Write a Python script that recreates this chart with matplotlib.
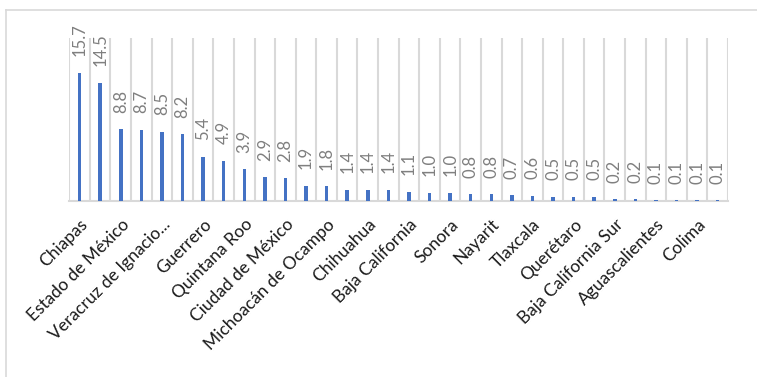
import numpy as np
import matplotlib.pyplot as plt
from matplotlib.lines import Line2D

# Values per state, sorted high to low (only every other name is shown on the axis)
values = [15.7, 14.5, 8.8, 8.7, 8.5, 8.2, 5.4, 4.9, 3.9, 2.9, 2.8, 1.9, 1.8, 1.4, 1.4, 1.4,
          1.1, 1.0, 1.0, 0.8, 0.8, 0.7, 0.6, 0.5, 0.5, 0.5, 0.2, 0.2, 0.1, 0.1, 0.1, 0.1]
shown_labels = ["Chiapas", "Estado de México", "Veracruz de Ignacio...", "Guerrero",
                "Quintana Roo", "Ciudad de México", "Michoacán de Ocampo", "Chihuahua",
                "Baja California", "Sonora", "Nayarit", "Tlaxcala", "Querétaro",
                "Baja California Sur", "Aguascalientes", "Colima"]

BAR = "#4472C4"
GRID = "#d9d9d9"

plt.rcParams["font.family"] = ["Lato", "DejaVu Sans"]

W, H = 757, 377
fig = plt.figure(figsize=(W / 100, H / 100), dpi=100)
ax = fig.add_axes([69.3 / W, 1 - 201 / H, 658.7 / W, 163 / H])

x = np.arange(len(values))
ax.bar(x, values, width=0.17, color=BAR, zorder=3)

for xi, v in zip(x, values):
    ax.annotate(f"{v:.1f}", (xi, v), xytext=(0, 12), textcoords="offset points",
                rotation=90, ha="center", va="bottom", fontsize=12, color="#7f7f7f")

ax.set_xlim(-0.5, len(values) - 0.5)
ax.set_ylim(0, 20)
ax.set_yticks([])

# category boundaries as vertical gridlines
ax.set_xticks(np.arange(-0.5, len(values), 1), minor=True)
ax.grid(which="minor", axis="x", color=GRID, lw=1.5, zorder=0)
ax.set_xticks(x[::2])
ax.set_xticklabels(shown_labels, rotation=45, ha="right", rotation_mode="anchor",
                   fontsize=12.5, color="#1a1a1a")
ax.tick_params(axis="x", which="both", length=0, pad=11)

for s in ["top", "left", "right"]:
    ax.spines[s].set_visible(False)
ax.spines["bottom"].set_color(GRID)
ax.spines["bottom"].set_linewidth(1.5)

# chart frame (cropped)
fig.add_artist(Line2D([6 / W, 6 / W], [0, 1 - 9.5 / H], transform=fig.transFigure,
                      color=GRID, lw=1.2))
fig.add_artist(Line2D([6 / W, 1], [1 - 9.5 / H, 1 - 9.5 / H], transform=fig.transFigure,
                      color=GRID, lw=1.2))

fig.savefig("out.png", dpi=100)
